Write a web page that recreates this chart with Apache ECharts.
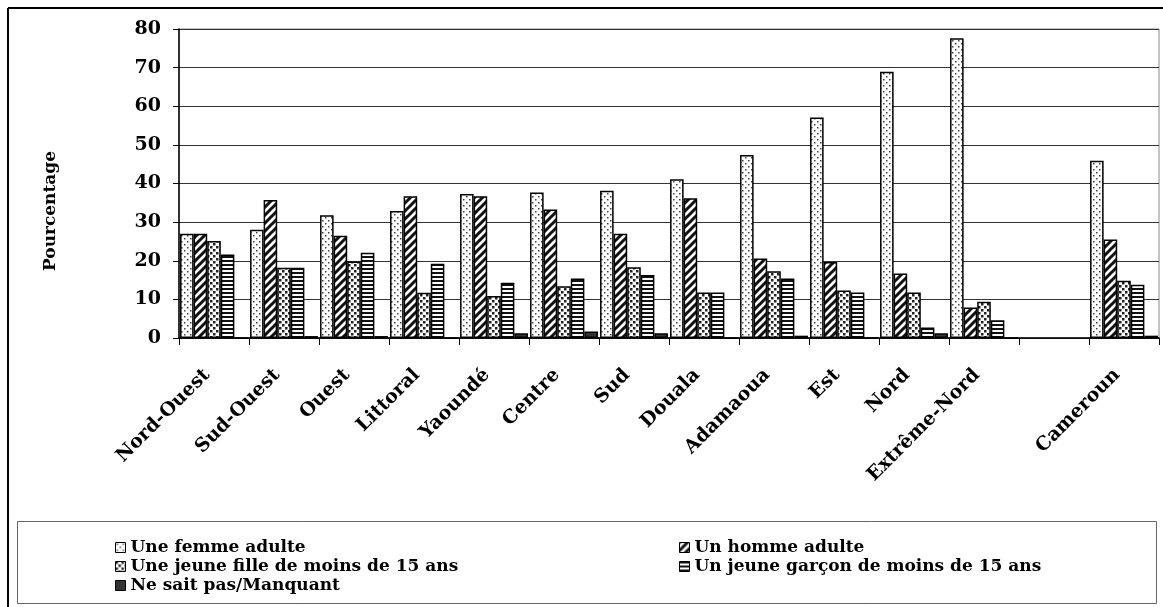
<!DOCTYPE html>
<html>
<head>
<meta charset="utf-8">
<script src="https://cdn.jsdelivr.net/npm/echarts@6/dist/echarts.min.js"></script>
<style>
html,body{margin:0;padding:0;background:#fff;}
#chart{width:1163px;height:607px;}
</style>
</head>
<body>
<div id="chart"></div>
<script>
const categories = ['Nord-Ouest','Sud-Ouest','Ouest','Littoral','Yaoundé','Centre','Sud','Douala','Adamaoua','Est','Nord','Extrême-Nord','','Cameroun'];
const seriesNames = ['Une femme adulte','Un homme adulte','Une jeune fille de moins de 15 ans','Un jeune garçon de moins de 15 ans','Ne sait pas/Manquant'];
const femme  = [27.0, 28.0, 31.8, 32.9, 37.3, 37.7, 38.1, 41.1, 47.4, 57.1, 68.9, 77.6, null, 45.9];
const homme  = [27.0, 35.7, 26.5, 36.7, 36.7, 33.3, 27.0, 36.2, 20.6, 19.7, 16.7, 7.9, null, 25.5];
const fille  = [25.1, 18.2, 19.8, 11.7, 10.9, 13.4, 18.3, 11.8, 17.3, 12.3, 11.8, 9.4, null, 14.8];
const garcon = [21.6, 18.2, 22.1, 19.2, 14.3, 15.4, 16.3, 11.8, 15.4, 11.8, 2.7, 4.6, null, 13.8];
const nsp    = [0, 0.5, 0.5, 0, 1.2, 1.7, 1.2, 0, 0.6, 0, 1.2, 0, null, 0.6];
const yTicks = [0, 10, 20, 30, 40, 50, 60, 70, 80];

function makeCanvas(w, h, draw) {
  const c = document.createElement('canvas');
  c.width = w; c.height = h;
  const ctx = c.getContext('2d');
  ctx.fillStyle = '#fff';
  ctx.fillRect(0, 0, w, h);
  draw(ctx);
  return {image: c, repeat: 'repeat'};
}
const patDots = makeCanvas(6, 6, ctx => {
  ctx.fillStyle = '#444';
  ctx.fillRect(1, 1, 1.5, 1.5);
  ctx.fillRect(4, 4, 1.5, 1.5);
});
const patDiag = makeCanvas(8, 8, ctx => {
  ctx.strokeStyle = '#111';
  ctx.lineWidth = 3;
  ctx.beginPath();
  ctx.moveTo(-2, 10); ctx.lineTo(10, -2);
  ctx.moveTo(-6, 6); ctx.lineTo(6, -6);
  ctx.moveTo(2, 14); ctx.lineTo(14, 2);
  ctx.stroke();
});
const patCheck = makeCanvas(6, 6, ctx => {
  ctx.fillStyle = '#222';
  ctx.fillRect(0, 0, 2.5, 2.5);
  ctx.fillRect(3, 3, 2.5, 2.5);
});
const patHoriz = makeCanvas(4, 4, ctx => {
  ctx.fillStyle = '#111';
  ctx.fillRect(0, 0, 4, 2);
});
const fills = [patDots, patDiag, patCheck, patHoriz, '#333'];
const dataSets = [femme, homme, fille, garcon, nsp];

const FONT = '"DejaVu Serif", "Liberation Serif", serif';
const chart = echarts.init(document.getElementById('chart'), null, {renderer: 'canvas'});

const series = dataSets.map((d, i) => ({
  name: seriesNames[i],
  type: 'bar',
  data: d,
  barGap: '0%',
  barCategoryGap: '3%',
  itemStyle: {color: fills[i], borderColor: '#000', borderWidth: 1.5},
  emphasis: {disabled: true},
  animation: false
}));

const legendText = {fontFamily: FONT, fontWeight: 'bold', fontSize: 17, color: '#000', lineHeight: 19};

chart.setOption({
  animation: false,
  backgroundColor: '#fff',
  grid: {left: 179, top: 29, right: 4, bottom: 269, show: true, borderColor: '#888', borderWidth: 1, backgroundColor: 'transparent'},
  legend: [
    {orient: 'vertical', left: 110, top: 533, itemWidth: 10, itemHeight: 10, itemGap: 0, icon: 'rect',
     data: [seriesNames[0], seriesNames[2], seriesNames[4]], textStyle: legendText, selectedMode: false,
     itemStyle: {borderColor: '#000', borderWidth: 1}},
    {orient: 'vertical', left: 674, top: 533, itemWidth: 10, itemHeight: 10, itemGap: 0, icon: 'rect',
     data: [seriesNames[1], seriesNames[3]], textStyle: legendText, selectedMode: false,
     itemStyle: {borderColor: '#000', borderWidth: 1}}
  ],
  xAxis: {
    type: 'category',
    data: categories,
    axisLine: {lineStyle: {color: '#000', width: 1.5}},
    axisTick: {show: true, length: 7, alignWithLabel: false, interval: 0, lineStyle: {color: '#000'}},
    axisLabel: {interval: 0, rotate: 45, margin: 27, padding: [0, 10, 0, 0], fontFamily: FONT, fontWeight: 'bold', fontSize: 19, color: '#000'},
    splitLine: {show: false}
  },
  yAxis: {
    type: 'value',
    min: 0, max: 80, interval: 10,
    axisLine: {show: true, lineStyle: {color: '#000', width: 1.5}},
    axisTick: {show: true, length: 6, lineStyle: {color: '#000'}},
    axisLabel: {margin: 18, fontFamily: FONT, fontWeight: 'bold', fontSize: 19, color: '#000',
      formatter: v => yTicks.includes(v) ? String(v) : ''},
    splitLine: {show: true, lineStyle: {color: '#333', width: 1}}
  },
  graphic: [
    {type: 'line', shape: {x1: 8, y1: 8, x2: 1163, y2: 8}, style: {stroke: '#000', lineWidth: 2}, z: 100},
    {type: 'line', shape: {x1: 8, y1: 8, x2: 8, y2: 607}, style: {stroke: '#000', lineWidth: 2}, z: 100},
    {type: 'rect', shape: {x: 17.5, y: 521.5, width: 1139, height: 82}, style: {fill: 'none', stroke: '#666', lineWidth: 1}, z: 100},
    {type: 'text', x: 51, y: 211, rotation: Math.PI / 2,
     style: {text: 'Pourcentage', fontFamily: FONT, fontWeight: 'bold', fontSize: 17, fill: '#000', align: 'center', verticalAlign: 'middle'}, z: 100}
  ],
  series: series
});
</script>
</body>
</html>
